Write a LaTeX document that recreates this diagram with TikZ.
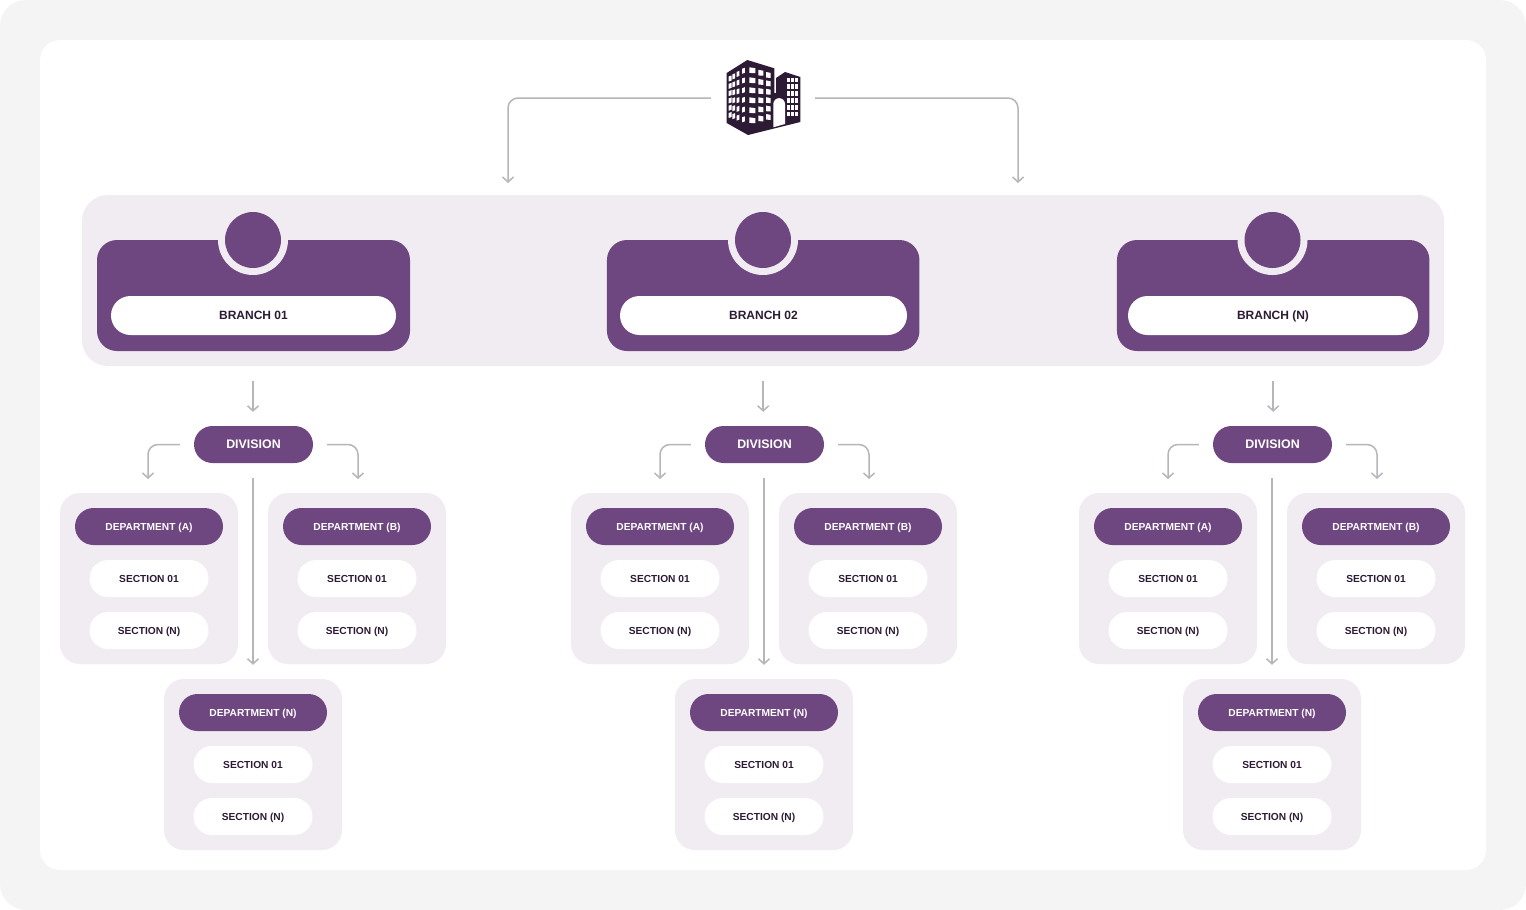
\documentclass[tikz,border=0pt]{standalone}
\usepackage{fontspec}
\setmainfont{Liberation Sans}
\usetikzlibrary{shapes.misc,arrows.meta}
\definecolor{purp}{HTML}{6E4680}
\definecolor{pale}{HTML}{F1ECF2}
\definecolor{ink}{HTML}{2D1B36}
\definecolor{wire}{HTML}{B8B4BB}
\definecolor{back}{HTML}{F4F4F4}

\begin{document}
\begin{tikzpicture}[x=1pt,y=-1pt]

\tikzstyle{panel} = [rectangle,rounded corners=20pt,fill=pale,minimum width=178pt,minimum height=171pt,inner sep=0pt]
\tikzstyle{card} = [rectangle,rounded corners=20pt,fill=purp,minimum height=111pt,inner sep=0pt]
\tikzstyle{bname} = [rounded rectangle,fill=white,text=ink,minimum height=39pt,inner sep=0pt,text height=8.6pt,text depth=0pt,font=\fontsize{12}{14}\selectfont\bfseries]
\tikzstyle{div} = [rounded rectangle,fill=purp,text=white,minimum width=119pt,minimum height=37pt,inner sep=0pt,text height=8.9pt,text depth=0pt,font=\fontsize{12.4}{14}\selectfont\bfseries]
\tikzstyle{dept} = [rounded rectangle,fill=purp,text=white,minimum width=148pt,minimum height=37pt,inner sep=0pt,text height=7.3pt,text depth=0pt,font=\fontsize{10.2}{12}\selectfont\bfseries]
\tikzstyle{sect} = [rounded rectangle,fill=white,text=ink,minimum width=119pt,minimum height=37pt,inner sep=0pt,text height=7.3pt,text depth=0pt,font=\fontsize{10.2}{12}\selectfont\bfseries]
\tikzstyle{ring} = [circle,fill=pale,minimum size=70pt,inner sep=0pt]
\tikzstyle{dot} = [circle,fill=purp,minimum size=56pt,inner sep=0pt]
\tikzstyle{e} = [draw=wire,line width=1.5pt,rounded corners=10pt,-{Straight Barb[length=5pt,width=11pt]}]

% background
\node[rectangle,rounded corners=26pt,fill=back,minimum width=1526pt,minimum height=910pt,inner sep=0pt](BG)at(763,455){};
\node[rectangle,rounded corners=20pt,fill=white,minimum width=1446pt,minimum height=830pt,inner sep=0pt](SHEET)at(763,455){};
\node[rectangle,rounded corners=26pt,fill=pale,minimum width=1362pt,minimum height=171pt,inner sep=0pt](BAND)at(763,280.5){};

% building
\node[minimum width=104pt,minimum height=76pt,inner sep=0pt](HQ)at(763,98){};
\fill[ink](726.7,73)--(747.3,60)--(774.3,68.3)--(774.3,93)--(776,93)--(776,78)--(785,72)--(800.3,77)--(800.3,122)--(748,135)--(726.7,123)--cycle;
\foreach \i in {0,...,5} \foreach \t in {0,.27,.6,1} {
  \pgfmathsetmacro\wx{728.7+13.3*\t}
  \pgfmathsetmacro\wy{76.5+7.3*\i+(-7.7+2.4*\i)*\t}
  \fill[white](\wx,\wy)--++(2.8,-1)--++(0,5)--++(-2.8,1)--cycle;
}
\foreach \i in {0,...,5} \foreach \t/\w in {0/6,.54/5,1/4.7} {
  \pgfmathsetmacro\wx{749.3+16.7*\t}
  \pgfmathsetmacro\wy{67.3+10*\i+(4.7-1.6*\i)*\t}
  \fill[white](\wx,\wy)--++(\w,.9)--++(0,5)--++(-\w,-.3)--cycle;
}
\foreach \i in {0,...,5} \foreach \wx in {786.6,790.9,795} {
  \pgfmathsetmacro\wy{77.5+6.9*\i}
  \fill[white](\wx,\wy)rectangle++(2.9,4.4);
}
\fill[white](773.3,127.3)--(773.3,104)arc(180:360:5.85)--(785,124)--cycle;

% branches
\node[card,minimum width=313pt](C1)at(253.5,295.5){};
\node[card,minimum width=312.5pt](C2)at(763.2,295.5){};
\node[card,minimum width=312.5pt](C3)at(1273.2,295.5){};
\node[ring](R1)at(253,240){};
\node[ring](R2)at(763,240){};
\node[ring](R3)at(1272.5,240){};
\node[dot](O1)at(253,240){};
\node[dot](O2)at(763,240){};
\node[dot](O3)at(1272.5,240){};
\node[bname,minimum width=285pt](B1)at(253.5,315.5){BRANCH 01};
\node[bname,minimum width=287pt](B2)at(763.5,315.5){BRANCH 02};
\node[bname,minimum width=290pt](B3)at(1273,315.5){BRANCH (N)};

% divisions
\node[div](V1)at(253.5,444.5){DIVISION};
\node[div](V2)at(764.5,444.5){DIVISION};
\node[div](V3)at(1272.5,444.5){DIVISION};

% first column
\node[panel](PA1)at(149,578.5){};
\node[panel](PB1)at(357,578.5){};
\node[panel](PN1)at(253,764.5){};
\node[dept](DA1)at(149,526.5){DEPARTMENT (A)};
\node[sect](SA1)at(149,578.5){SECTION 01};
\node[sect](TA1)at(149,630.5){SECTION (N)};
\node[dept](DB1)at(357,526.5){DEPARTMENT (B)};
\node[sect](SB1)at(357,578.5){SECTION 01};
\node[sect](TB1)at(357,630.5){SECTION (N)};
\node[dept](DN1)at(253,712.5){DEPARTMENT (N)};
\node[sect](SN1)at(253,764.5){SECTION 01};
\node[sect](TN1)at(253,816.5){SECTION (N)};

% second column
\node[panel](PA2)at(660,578.5){};
\node[panel](PB2)at(868,578.5){};
\node[panel](PN2)at(764,764.5){};
\node[dept](DA2)at(660,526.5){DEPARTMENT (A)};
\node[sect](SA2)at(660,578.5){SECTION 01};
\node[sect](TA2)at(660,630.5){SECTION (N)};
\node[dept](DB2)at(868,526.5){DEPARTMENT (B)};
\node[sect](SB2)at(868,578.5){SECTION 01};
\node[sect](TB2)at(868,630.5){SECTION (N)};
\node[dept](DN2)at(764,712.5){DEPARTMENT (N)};
\node[sect](SN2)at(764,764.5){SECTION 01};
\node[sect](TN2)at(764,816.5){SECTION (N)};

% third column
\node[panel](PA3)at(1168,578.5){};
\node[panel](PB3)at(1376,578.5){};
\node[panel](PN3)at(1272,764.5){};
\node[dept](DA3)at(1168,526.5){DEPARTMENT (A)};
\node[sect](SA3)at(1168,578.5){SECTION 01};
\node[sect](TA3)at(1168,630.5){SECTION (N)};
\node[dept](DB3)at(1376,526.5){DEPARTMENT (B)};
\node[sect](SB3)at(1376,578.5){SECTION 01};
\node[sect](TB3)at(1376,630.5){SECTION (N)};
\node[dept](DN3)at(1272,712.5){DEPARTMENT (N)};
\node[sect](SN3)at(1272,764.5){SECTION 01};
\node[sect](TN3)at(1272,816.5){SECTION (N)};

% free arrow ends
\coordinate(HL)at(508,183);
\coordinate(HR)at(1018,183);
\coordinate(UL1)at(148,479);
\coordinate(UR1)at(358,479);
\coordinate(UL2)at(660,479);
\coordinate(UR2)at(869,479);
\coordinate(UL3)at(1168,479);
\coordinate(UR3)at(1377,479);

\draw[e](HQ.west) -| (HL);
\draw[e](HQ.east) -| (HR);

\draw[e]([yshift=-30pt]C1.south -| PN1) -- ([yshift=14pt]V1.north -| PN1);
\draw[e]([yshift=-30pt]C2.south) -- ([yshift=14pt]V2.north -| C2);
\draw[e]([yshift=-30pt]C3.south) -- ([yshift=14pt]V3.north -| C3);

\draw[e]([xshift=-14pt]V1.west) -| (UL1);
\draw[e]([xshift=14pt]V1.east) -| (UR1);
\draw[e]([xshift=-14pt]V2.west) -| (UL2);
\draw[e]([xshift=14pt]V2.east) -| (UR2);
\draw[e]([xshift=-14pt]V3.west) -| (UL3);
\draw[e]([xshift=14pt]V3.east) -| (UR3);

\draw[e]([yshift=-15pt]V1.south -| PN1) -- ([yshift=14pt]PN1.north);
\draw[e]([yshift=-15pt]V2.south -| PN2) -- ([yshift=14pt]PN2.north);
\draw[e]([yshift=-15pt]V3.south -| PN3) -- ([yshift=14pt]PN3.north);

\end{tikzpicture}
\end{document}
